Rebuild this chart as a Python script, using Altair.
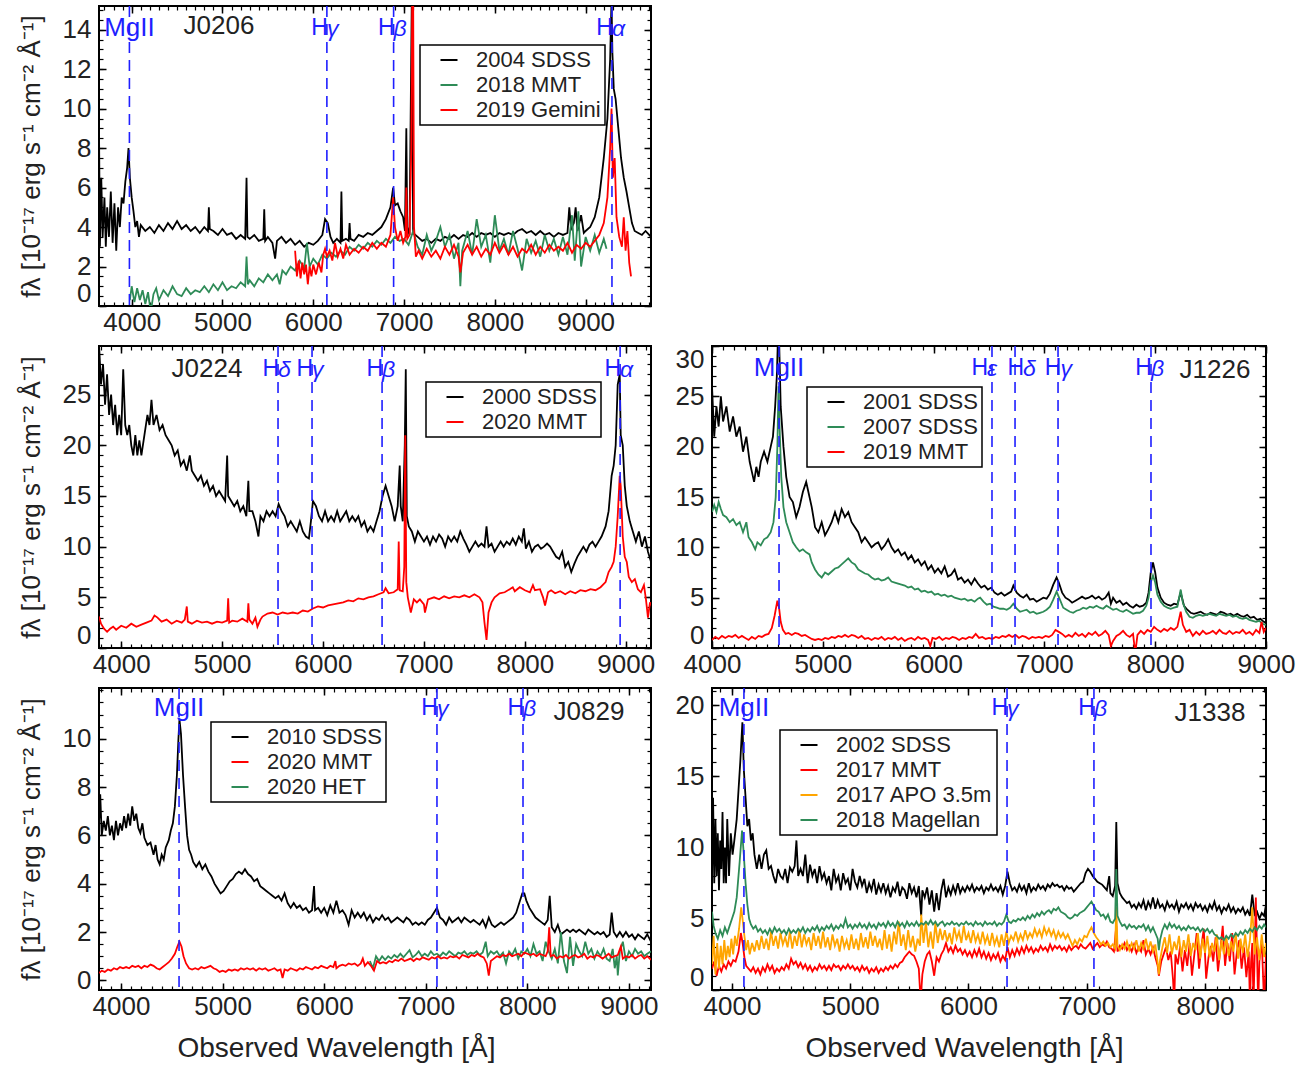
import altair as alt
import pandas as pd

FONT = "Liberation Sans"
BLUE = "#1f1fff"
TXT = "#222222"
C_BLACK, C_GREEN, C_RED, C_ORANGE = "#000000", "#2e8b57", "#ff0000", "#ffa500"

# ---------------- J0206 ----------------
J0206_SDSS2004 = [(3640,9.0),(3650,3.0),(3665,6.5),(3680,3.5),(3700,5.5),(3715,3.0),(3730,5.0),(3750,3.5),(3770,5.8),(3790,3.2),
 (3810,5.2),(3830,2.8),(3850,5.0),(3870,4.0),(3890,5.5),(3910,5.2),(3930,6.3),(3950,7.0),(3965,8.0),(3980,6.5),(4000,5.5),
 (4020,4.8),(4040,4.0),(4060,4.3),(4080,3.5),(4100,4.1),(4150,3.8),(4200,4.0),(4250,3.7),(4300,4.1),(4350,3.8),(4400,4.2),
 (4450,3.9),(4500,4.3),(4550,3.9),(4600,4.1),(4650,3.8),(4700,4.0),(4750,3.7),(4800,4.0),(4840,3.8),(4850,5.0),(4860,3.9),
 (4900,3.8),(4950,3.6),(5000,3.9),(5050,3.6),(5100,3.7),(5150,3.4),(5200,3.6),(5250,3.4),(5265,6.5),(5275,3.5),(5300,3.4),
 (5350,3.6),(5400,3.3),(5450,3.4),(5460,4.9),(5470,3.3),(5500,3.5),(5550,3.2),(5580,2.4),(5600,3.3),(5650,3.5),(5700,3.2),
 (5750,3.4),(5800,3.1),(5850,3.3),(5900,3.0),(5950,3.2),(6000,3.1),(6050,3.3),(6100,3.6),(6130,4.4),(6160,4.2),(6190,3.5),
 (6220,3.2),(6260,3.4),(6300,3.2),(6310,5.8),(6320,3.3),(6360,3.4),(6390,3.3),(6400,4.2),(6410,3.4),(6450,3.3),(6500,3.6),
 (6550,3.5),(6600,3.7),(6650,3.6),(6700,3.8),(6750,4.0),(6800,4.4),(6850,5.0),(6880,6.0),(6900,5.1),(6930,5.2),(6960,4.8),
 (6990,4.5),(7010,3.8),(7025,9.0),(7035,4.0),(7060,3.6),(7085,15.5),(7100,3.7),(7150,3.5),(7200,3.3),(7250,3.4),(7300,3.2),
 (7350,3.4),(7400,3.3),(7450,3.5),(7500,3.4),(7550,3.6),(7600,3.4),(7650,3.6),(7700,3.5),(7750,3.7),(7800,3.5),(7850,3.7),
 (7900,3.6),(7950,3.7),(8000,3.5),(8050,3.7),(8100,3.6),(8150,3.7),(8200,3.6),(8250,3.8),(8300,3.9),(8350,3.7),(8400,3.8),
 (8450,3.6),(8500,3.8),(8550,3.6),(8600,3.7),(8650,3.5),(8700,3.7),(8750,3.6),(8800,3.7),(8820,5.0),(8840,3.9),(8870,4.2),
 (8890,5.0),(8910,3.8),(8950,4.6),(8980,3.7),(9000,3.8),(9050,4.0),(9100,4.5),(9150,5.5),(9200,7.5),(9240,9.5),(9270,12.5),
 (9285,15.5),(9295,12.8),(9310,11.0),(9330,10.5),(9360,9.0),(9390,7.5),(9420,6.5),(9450,5.8),(9480,5.0),(9510,4.2),
 (9540,3.8),(9580,3.7),(9620,3.6),(9660,3.8),(9700,3.6),(9720,3.5)]
J0206_MMT2018 = [(3980,0.3),(4000,1.0),(4030,0.2),(4060,0.9),(4090,0.3),(4120,0.8),(4150,0.1),(4180,0.7),(4210,-0.3),(4240,0.6),
 (4270,0.9),(4300,0.3),(4350,0.8),(4400,0.5),(4450,1.0),(4500,0.6),(4550,0.5),(4600,0.9),(4650,0.6),(4700,0.8),(4750,0.7),
 (4800,1.0),(4850,0.7),(4900,1.1),(4950,0.8),(5000,1.2),(5050,0.8),(5100,1.0),(5150,0.9),(5200,1.2),(5250,1.0),(5265,2.5),
 (5280,1.1),(5300,1.3),(5350,1.0),(5400,1.4),(5450,1.2),(5500,1.6),(5550,1.3),(5600,1.6),(5630,1.1),(5660,1.8),(5700,1.6),
 (5750,2.0),(5800,1.8),(5850,2.3),(5900,1.9),(5930,3.2),(5960,2.0),(6000,2.4),(6050,2.1),(6100,2.6),(6150,2.4),(6200,2.7),
 (6250,2.5),(6300,2.8),(6350,2.6),(6400,3.0),(6450,2.8),(6500,3.1),(6550,2.9),(6600,3.2),(6650,3.0),(6700,3.3),(6750,3.1),
 (6800,3.4),(6850,3.2),(6900,3.5),(6950,3.3),(7000,3.4),(7050,3.1),(7100,3.8),(7150,3.0),(7200,2.6),(7250,3.6),(7300,2.8),
 (7350,3.3),(7400,4.0),(7450,3.0),(7500,3.6),(7550,2.4),(7600,3.2),(7620,1.0),(7640,2.8),(7700,3.8),(7750,2.6),(7800,4.4),
 (7850,3.0),(7900,3.6),(7950,2.2),(8000,4.6),(8050,2.8),(8100,3.4),(8150,2.6),(8200,3.8),(8250,2.9),(8300,1.8),(8350,3.4),
 (8400,2.7),(8450,3.3),(8500,2.5),(8550,3.6),(8600,2.8),(8650,3.4),(8700,2.6),(8750,3.5),(8800,2.6),(8850,4.6),(8880,2.3),
 (8920,4.8),(8950,2.0),(9000,3.5),(9050,2.8),(9100,3.6),(9150,2.7),(9200,3.4),(9230,2.9)]
J0206_GEMINI2019 = [(5800,2.8),(5820,1.5),(5840,2.3),(5860,1.4),(5880,2.2),(5900,1.6),(5920,2.1),(5940,1.1),(5960,2.0),(5980,1.5),
 (6000,2.1),(6030,1.6),(6060,2.2),(6090,1.7),(6110,2.6),(6130,2.9),(6150,2.5),(6180,2.8),(6210,2.3),(6240,3.2),(6270,2.5),
 (6300,2.9),(6330,2.4),(6360,3.1),(6400,2.6),(6450,2.9),(6500,2.7),(6550,3.0),(6600,2.8),(6650,3.2),(6700,2.9),(6750,3.2),
 (6800,3.0),(6850,3.6),(6880,5.5),(6900,4.0),(6930,3.3),(6960,3.8),(6990,3.2),(7015,3.5),(7025,6.0),(7035,3.4),(7060,3.6),
 (7080,8.0),(7090,16.0),(7100,16.0),(7110,4.0),(7130,2.5),(7160,2.8),(7200,2.4),(7250,2.9),(7300,2.5),(7350,2.8),(7400,2.4),
 (7450,3.0),(7500,2.6),(7550,3.1),(7600,2.5),(7620,1.7),(7650,2.7),(7700,3.1),(7750,2.6),(7800,3.0),(7850,2.5),(7900,2.9),
 (7950,2.6),(8000,3.2),(8050,2.7),(8100,3.1),(8150,2.6),(8200,3.0),(8250,2.5),(8300,2.9),(8350,2.7),(8400,3.1),(8450,2.6),
 (8500,3.0),(8550,2.7),(8600,3.1),(8650,2.8),(8700,3.0),(8750,2.8),(8800,3.2),(8850,2.7),(8900,3.1),(8950,2.9),(9000,3.2),
 (9050,3.0),(9100,3.3),(9150,3.6),(9200,4.2),(9240,5.5),(9270,8.0),(9285,10.0),(9300,6.5),(9320,7.5),(9340,4.5),(9370,3.5),
 (9400,3.0),(9420,4.5),(9440,2.8),(9460,3.8),(9480,2.2),(9500,1.5)]

# ---------------- J0224 ----------------
J0224_SDSS2000 = [(3780,30.0),(3800,26),(3820,28),(3840,24),(3860,27),(3880,23),(3900,25),(3920,22),(3940,24),(3960,21),(3980,23),
 (4000,21),(4020,27.5),(4040,22),(4060,21),(4080,22),(4100,20),(4120,19),(4140,21),(4160,19),(4180,20.5),(4200,19),(4230,21),
 (4260,23),(4280,22),(4300,24.5),(4320,22),(4350,23),(4380,21.5),(4410,22),(4440,21),(4470,20.5),(4500,20),(4530,19),
 (4560,19.5),(4590,18),(4620,18.5),(4650,17.5),(4680,19),(4700,17.5),(4730,17),(4760,16.5),(4790,17),(4820,16),(4850,16.5),
 (4880,15.5),(4910,16),(4940,15),(4970,15.5),(5000,15),(5030,14.5),(5050,19),(5060,15),(5090,14.5),(5120,14),(5150,14.5),
 (5180,13.5),(5210,14),(5240,13),(5260,16.5),(5270,13.5),(5300,13.5),(5330,12.5),(5360,11),(5380,13),(5410,12.5),
 (5440,13.5),(5470,13),(5500,13.5),(5530,13),(5560,14.2),(5590,13.5),(5620,13),(5650,12),(5680,12.5),(5710,12),(5740,11.5),
 (5770,12.5),(5800,11.5),(5830,11),(5860,10.8),(5880,12.5),(5900,14.5),(5930,14),(5960,13),(5990,12.5),(6020,13.5),
 (6050,12.5),(6080,13),(6110,12.5),(6140,13.5),(6170,12.5),(6200,13),(6230,13.5),(6260,12.5),(6290,13),(6320,12.5),
 (6350,13),(6380,12),(6410,12.5),(6440,11.5),(6470,12),(6500,11.5),(6530,12.5),(6560,13.5),(6590,15),(6620,16),(6650,15),
 (6680,14),(6710,12.5),(6740,14),(6760,18),(6770,14),(6790,12.5),(6810,20),(6820,27.5),(6830,13),(6850,12),(6880,11.5),
 (6910,10.5),(6940,11.5),(6970,11),(7000,10.5),(7030,11),(7060,10.2),(7090,11),(7120,10.5),(7150,11.2),(7180,10.8),
 (7210,10),(7240,11),(7270,10.5),(7300,11),(7330,10.5),(7360,11.5),(7390,10.8),(7420,10.2),(7450,9.5),(7480,10),(7510,10.5),
 (7540,10),(7570,10.3),(7600,10),(7620,12),(7640,10),(7670,10.3),(7700,9.5),(7730,10),(7760,10.5),(7790,10),(7820,10.5),
 (7850,10.2),(7880,10.8),(7910,10.2),(7940,11),(7970,10.5),(7990,11.8),(8010,9.8),(8040,10.5),(8070,9.5),(8100,10),
 (8130,10.2),(8160,9.8),(8190,10),(8220,10.3),(8250,10),(8280,9.5),(8310,9),(8340,8.8),(8370,9.5),(8400,8.0),(8430,8.5),
 (8460,7.5),(8490,8.3),(8520,9),(8550,9.5),(8580,10),(8610,9.5),(8640,10.2),(8670,10.5),(8700,10),(8730,10.5),(8760,11),
 (8800,12),(8830,13.5),(8860,17),(8880,18),(8900,20),(8920,26),(8940,27),(8950,21),(8970,20),(8990,16),(9010,14),
 (9040,12.5),(9070,11.5),(9100,10.5),(9130,11.5),(9160,10),(9190,11),(9220,9.5),(9250,8.5)]
J0224_MMT2020 = [(3780,3.1),(3800,2.4),(3830,1.9),(3860,1.6),(3890,1.9),(3920,2.1),(3950,1.8),(4000,2.2),(4050,2.0),(4100,2.4),
 (4150,2.1),(4200,2.3),(4250,2.5),(4300,2.7),(4330,3.2),(4360,3.0),(4400,2.6),(4450,2.8),(4500,2.4),(4550,2.7),(4600,2.5),
 (4630,2.8),(4650,4.1),(4660,2.6),(4700,2.4),(4750,2.7),(4800,2.5),(4850,2.6),(4900,2.4),(4950,2.6),(5000,2.5),(5050,2.7),
 (5060,4.9),(5070,2.5),(5100,2.7),(5150,2.6),(5200,2.9),(5250,2.6),(5260,4.4),(5270,2.8),(5300,2.4),(5330,3.0),(5350,2.1),
 (5380,2.8),(5400,3.1),(5450,3.4),(5500,3.5),(5550,3.3),(5600,3.5),(5650,3.4),(5700,3.5),(5750,3.4),(5800,3.7),(5850,3.6),
 (5900,3.9),(5950,4.1),(6000,4.0),(6050,4.2),(6100,4.3),(6150,4.4),(6200,4.5),(6250,4.7),(6300,4.6),(6350,4.9),(6400,4.8),
 (6450,5.0),(6500,5.1),(6550,5.3),(6600,5.5),(6620,5.9),(6650,5.4),(6700,5.5),(6740,5.8),(6750,10.5),(6760,5.7),(6790,5.6),
 (6805,8.0),(6815,21.0),(6825,6.5),(6840,5.0),(6870,3.5),(6900,4.8),(6930,4.5),(6960,4.8),(7000,4.3),(7010,3.5),(7040,4.8),
 (7070,4.9),(7100,5.0),(7150,4.8),(7200,5.1),(7250,4.9),(7300,5.1),(7350,5.0),(7400,5.2),(7450,5.0),(7500,5.3),(7550,5.0),
 (7580,4.5),(7600,2.5),(7620,0.8),(7640,3.5),(7670,4.5),(7700,5.0),(7750,5.4),(7800,5.5),(7850,5.8),(7880,6.0),(7900,5.6),
 (7950,6.0),(8000,5.7),(8050,5.5),(8080,6.2),(8100,5.7),(8150,5.8),(8180,5.0),(8200,4.2),(8230,5.5),(8260,5.7),(8300,5.4),
 (8350,5.6),(8400,5.3),(8450,5.6),(8500,5.4),(8550,5.7),(8600,5.6),(8650,5.8),(8700,5.7),(8750,6.0),(8800,6.5),(8830,7.5),
 (8860,8.0),(8880,8.5),(8900,10),(8920,13),(8940,17),(8950,16),(8970,11),(8990,9),(9010,8.5),(9030,7.0),(9060,6.5),
 (9090,6.8),(9120,5.8),(9150,5.5),(9180,6.2),(9200,4.8),(9220,3.0),(9240,4.5),(9250,4.2)]

# ---------------- J1226 ----------------
J1226_SDSS2001 = [(4000,26),(4020,21),(4040,24),(4060,22),(4080,25),(4100,22.5),(4130,24),(4160,21.5),(4190,23),(4220,21),
 (4250,22),(4280,19.5),(4310,21),(4340,18.5),(4360,17.5),(4380,16.5),(4400,18),(4420,17),(4440,18.5),(4470,19.5),(4500,18.5),
 (4530,20),(4550,21),(4570,24),(4585,27),(4597,31.5),(4607,30),(4620,24),(4645,20),(4670,17),(4700,15),(4730,14.5),(4760,13),
 (4790,14),(4820,15.5),(4850,16.5),(4870,15.5),(4900,14),(4930,12),(4960,11.5),(4990,12.5),(5020,11.2),(5050,11.8),
 (5080,12.5),(5110,13.5),(5140,12.5),(5170,13.8),(5200,13),(5230,13.5),(5260,12.5),(5290,12),(5320,11.5),(5350,10.5),
 (5380,11),(5410,10.5),(5440,10),(5470,10.3),(5500,10.5),(5530,9.8),(5560,10.2),(5590,10.8),(5620,10),(5650,9.5),(5680,9.8),
 (5710,9.2),(5740,9.5),(5770,8.8),(5800,9.2),(5830,8.5),(5860,8.8),(5890,8.2),(5920,8.6),(5950,7.8),(5980,8.2),(6010,7.5),
 (6040,7.9),(6070,7.4),(6100,8.1),(6130,7.1),(6160,7.3),(6190,7.8),(6220,6.8),(6250,7.0),(6280,6.5),(6310,6.8),(6340,6.3),
 (6370,6.9),(6400,6.4),(6430,6.0),(6460,6.2),(6490,5.8),(6520,6.0),(6550,5.5),(6580,5.3),(6610,5.5),(6640,5.2),(6670,5.4),
 (6700,5.6),(6720,6.2),(6750,5.5),(6780,5.2),(6810,5.0),(6840,5.3),(6870,4.8),(6900,4.9),(6930,4.6),(6960,4.8),(6990,5.0),
 (7020,4.9),(7050,5.4),(7080,6.3),(7110,7.0),(7130,6.5),(7160,5.5),(7190,5.0),(7220,4.8),(7250,4.5),(7280,4.7),(7310,4.9),
 (7340,5.1),(7370,4.9),(7400,5.0),(7430,5.2),(7460,4.9),(7490,5.1),(7520,4.8),(7550,5.0),(7580,5.5),(7600,4.4),(7620,5.0),
 (7650,4.5),(7680,4.7),(7710,4.3),(7740,4.5),(7770,4.2),(7800,4.0),(7830,4.3),(7860,4.1),(7890,4.2),(7920,4.5),(7940,5.5),
 (7960,7.5),(7980,8.5),(8000,7.5),(8020,6.0),(8050,5.0),(8080,4.5),(8110,4.3),(8140,4.2),(8170,4.4),(8200,4.3),(8230,5.5),
 (8260,4.2),(8290,3.8),(8320,3.5),(8350,3.4),(8380,3.5),(8410,3.6),(8440,3.4),(8470,3.3),(8500,3.5),(8530,3.4),(8560,3.3),
 (8590,3.6),(8620,3.5),(8650,3.3),(8680,3.4),(8710,3.2),(8740,3.4),(8770,3.2),(8800,3.1),(8830,3.3),(8860,3.0),(8890,3.1),
 (8920,2.8),(8950,2.9),(8980,2.6),(9000,2.5)]
J1226_SDSS2007 = [(4000,13.5),(4020,14.2),(4040,13.5),(4060,14.5),(4080,13.8),(4100,13.2),(4130,13.0),(4160,12.5),(4190,12.8),
 (4220,12.2),(4250,12.5),(4280,11.5),(4310,12.5),(4330,11.0),(4360,10.5),(4390,9.8),(4410,10.5),(4440,10.2),(4470,10.8),
 (4500,11.0),(4530,11.5),(4555,12.5),(4575,15),(4590,20),(4600,26),(4610,22),(4625,17),(4645,14),(4670,12.5),(4700,11.5),
 (4730,10.5),(4760,10.0),(4790,9.6),(4820,9.8),(4850,9.5),(4880,9.3),(4900,8.5),(4930,7.8),(4960,7.3),(4990,7.0),(5020,7.5),
 (5050,7.3),(5080,7.6),(5110,7.9),(5140,8.0),(5170,8.3),(5200,8.6),(5230,8.9),(5260,8.5),(5290,8.3),(5320,7.8),(5350,7.6),
 (5380,7.4),(5410,7.3),(5440,7.0),(5470,6.8),(5500,6.9),(5530,6.7),(5560,6.8),(5590,7.0),(5620,6.6),(5650,6.5),(5680,6.4),
 (5710,6.3),(5740,6.2),(5770,6.0),(5800,6.1),(5830,5.8),(5860,5.9),(5890,5.6),(5920,5.7),(5950,5.5),(5980,5.6),(6010,5.3),
 (6040,5.4),(6070,5.2),(6100,5.3),(6130,5.1),(6160,5.2),(6190,5.0),(6220,4.9),(6250,4.8),(6280,4.9),(6310,4.7),(6340,4.8),
 (6370,4.6),(6400,4.9),(6420,5.0),(6450,4.6),(6480,4.3),(6510,4.4),(6540,4.1),(6570,4.0),(6600,3.9),(6630,3.9),(6660,3.8),
 (6690,4.0),(6720,4.4),(6750,3.9),(6780,3.6),(6810,3.7),(6840,3.8),(6870,3.5),(6900,3.6),(6930,3.4),(6960,3.5),(6990,3.6),
 (7020,3.8),(7050,4.1),(7080,4.8),(7110,5.6),(7140,4.8),(7170,4.0),(7200,3.8),(7230,3.6),(7260,3.5),(7290,3.7),(7320,3.8),
 (7350,4.0),(7380,3.9),(7410,4.1),(7440,4.0),(7470,4.2),(7500,4.0),(7530,3.9),(7560,4.2),(7590,4.0),(7620,3.8),(7650,3.9),
 (7680,3.7),(7710,3.6),(7740,3.8),(7770,3.6),(7800,3.4),(7830,3.5),(7860,3.5),(7890,3.7),(7920,4.2),(7940,5.0),(7960,6.5),
 (7980,7.2),(8000,6.5),(8020,5.3),(8050,4.6),(8080,4.2),(8110,4.0),(8140,3.9),(8170,4.0),(8200,4.1),(8230,5.8),(8250,4.5),
 (8280,3.6),(8310,3.1),(8340,3.0),(8370,3.2),(8400,3.3),(8430,3.2),(8460,3.3),(8490,3.4),(8520,3.3),(8550,3.2),(8580,3.4),
 (8610,3.3),(8640,3.2),(8670,3.3),(8700,3.1),(8730,3.2),(8760,3.0),(8790,2.9),(8820,3.0),(8850,2.8),(8880,2.7),(8910,2.6),
 (8940,2.7),(8970,2.4),(9000,2.3)]
J1226_MMT2019 = [(4000,0.8),(4030,1.1),(4060,0.9),(4090,1.2),(4120,1.0),(4150,1.2),(4180,1.1),(4210,1.3),(4240,1.0),(4270,1.2),
 (4300,1.0),(4330,0.8),(4360,1.1),(4390,0.9),(4420,1.2),(4450,1.1),(4480,1.3),(4510,1.4),(4540,2.0),(4565,3.2),(4590,4.7),
 (4605,4.0),(4620,2.6),(4640,1.8),(4665,1.4),(4690,1.5),(4720,1.3),(4750,1.5),(4780,1.4),(4810,1.2),(4840,1.3),(4870,1.1),
 (4900,0.9),(4930,0.8),(4960,0.9),(4990,0.8),(5020,1.0),(5050,0.9),(5080,1.1),(5110,1.0),(5140,1.2),(5170,1.1),(5200,1.3),
 (5230,1.1),(5260,1.3),(5290,1.2),(5320,1.0),(5350,1.2),(5380,0.9),(5410,1.0),(5440,0.8),(5470,1.0),(5500,0.9),(5530,1.1),
 (5560,0.8),(5590,1.0),(5620,0.9),(5650,1.1),(5680,0.8),(5710,1.0),(5740,0.7),(5770,0.9),(5800,1.0),(5830,0.8),(5860,1.1),
 (5890,0.9),(5920,1.0),(5950,0.8),(5970,0.2),(5990,1.0),(6020,0.9),(6050,1.1),(6080,0.8),(6110,1.0),(6140,0.9),(6170,1.1),
 (6200,1.0),(6230,0.8),(6260,1.0),(6290,0.9),(6320,1.1),(6350,1.0),(6380,1.4),(6410,1.0),(6440,1.1),(6470,0.9),(6500,1.0),
 (6530,0.9),(6560,1.1),(6590,1.0),(6620,1.2),(6650,1.1),(6680,1.3),(6710,1.1),(6740,1.3),(6770,1.0),(6800,1.2),(6830,1.1),
 (6860,0.9),(6890,1.1),(6920,1.0),(6950,1.1),(6980,1.0),(7010,1.2),(7040,1.1),(7070,1.3),(7100,1.8),(7130,1.6),(7160,1.4),
 (7190,1.1),(7220,1.3),(7250,1.1),(7280,1.5),(7310,1.2),(7340,1.4),(7370,1.1),(7400,1.5),(7430,1.3),(7460,1.6),(7490,1.2),
 (7520,1.4),(7550,1.7),(7580,1.3),(7600,0.2),(7620,0.7),(7650,1.2),(7680,1.4),(7710,1.7),(7740,1.3),(7770,1.1),(7800,1.4),
 (7820,-0.5),(7840,1.3),(7870,1.7),(7900,1.4),(7930,1.8),(7960,1.6),(7990,2.1),(8020,1.8),(8050,1.6),(8080,1.9),(8110,1.7),
 (8140,2.0),(8170,1.8),(8200,2.1),(8230,3.6),(8250,2.3),(8280,1.6),(8310,1.8),(8340,1.2),(8370,1.6),(8400,1.3),(8430,1.7),
 (8460,1.4),(8490,1.5),(8520,1.7),(8550,1.4),(8580,1.8),(8610,1.5),(8640,1.4),(8670,1.7),(8700,1.4),(8730,1.6),(8760,1.5),
 (8790,1.8),(8820,1.4),(8850,1.6),(8880,1.3),(8910,1.8),(8940,1.5),(8960,2.6),(8980,1.6),(9000,2.0)]

# ---------------- J0829 ----------------
J0829_SDSS2010 = [(3783,6.5),(3795,7.7),(3810,6.0),(3830,6.6),(3850,6.2),(3870,6.8),(3890,6.0),(3910,6.4),(3930,5.8),(3950,6.6),
 (3970,6.0),(3990,6.5),(4010,6.2),(4030,6.8),(4050,6.3),(4070,6.9),(4090,6.4),(4110,7.2),(4130,6.6),(4150,6.9),(4170,6.3),
 (4190,6.1),(4210,6.5),(4230,5.9),(4260,5.6),(4290,5.7),(4320,5.2),(4340,5.6),(4360,5.0),(4380,4.8),(4400,5.2),(4420,5.0),
 (4440,5.5),(4470,5.8),(4490,6.2),(4510,6.5),(4530,7.2),(4550,8.5),(4565,10.0),(4575,10.8),(4590,10.2),(4610,8.5),(4630,7.2),
 (4650,6.0),(4670,5.4),(4690,5.2),(4710,4.9),(4740,4.7),(4770,4.9),(4800,4.6),(4830,4.8),(4860,4.5),(4890,4.3),(4920,4.0),
 (4950,3.8),(4980,3.6),(5010,3.7),(5040,3.9),(5070,4.1),(5100,4.2),(5130,4.4),(5160,4.5),(5190,4.4),(5220,4.6),(5250,4.4),
 (5280,4.3),(5310,4.1),(5340,4.2),(5370,3.9),(5400,3.8),(5430,3.7),(5460,3.6),(5490,3.5),(5520,3.4),(5550,3.5),(5580,3.3),
 (5610,3.6),(5640,3.2),(5670,3.0),(5700,3.2),(5730,3.0),(5760,3.1),(5790,2.9),(5820,3.0),(5850,2.8),(5880,2.9),(5900,3.9),
 (5910,2.9),(5940,3.0),(5970,2.8),(6000,3.0),(6030,2.7),(6060,3.1),(6090,2.8),(6120,3.3),(6150,2.8),(6180,2.9),(6210,2.7),
 (6240,2.3),(6270,2.9),(6300,2.6),(6330,2.8),(6360,2.6),(6390,2.8),(6420,2.5),(6450,2.7),(6480,2.4),(6510,2.6),(6540,2.5),
 (6570,2.7),(6600,2.5),(6630,2.6),(6660,2.4),(6690,2.5),(6720,2.6),(6750,2.5),(6780,2.4),(6810,2.6),(6840,2.5),(6870,2.3),
 (6900,2.4),(6930,2.3),(6960,2.4),(6990,2.3),(7020,2.5),(7050,2.6),(7080,2.8),(7110,3.0),(7140,2.6),(7170,2.5),(7200,2.3),
 (7230,2.6),(7260,2.4),(7290,2.5),(7320,2.6),(7350,2.4),(7380,2.6),(7410,2.5),(7440,2.4),(7470,2.5),(7500,2.4),(7530,2.3),
 (7560,2.5),(7590,2.2),(7620,2.6),(7650,2.3),(7680,2.2),(7710,2.3),(7740,2.4),(7770,2.3),(7800,2.4),(7830,2.5),(7860,2.6),
 (7890,2.8),(7920,3.2),(7950,3.6),(7970,3.6),(7990,3.3),(8020,3.0),(8050,2.8),(8080,2.6),(8110,2.5),(8140,2.4),(8170,2.3),
 (8200,2.5),(8220,3.5),(8240,2.2),(8270,2.0),(8300,2.3),(8330,1.9),(8360,2.0),(8390,2.1),(8420,2.0),(8450,2.1),(8480,2.0),
 (8510,2.1),(8540,2.0),(8570,1.9),(8600,2.1),(8630,2.0),(8660,1.9),(8690,2.0),(8720,1.9),(8750,2.0),(8780,1.8),(8810,1.9),
 (8830,2.8),(8850,2.0),(8880,1.8),(8910,2.0),(8940,1.8),(8970,2.0),(9000,1.8),(9030,1.9),(9060,1.7),(9090,1.9),(9120,1.8),
 (9150,1.7),(9180,1.9),(9217,1.6)]
J0829_MMT2020 = [(3783,0.3),(3810,0.4),(3840,0.35),(3870,0.45),(3900,0.4),(3930,0.5),(3960,0.45),(3990,0.55),(4020,0.5),
 (4050,0.55),(4080,0.5),(4110,0.6),(4140,0.55),(4170,0.6),(4200,0.5),(4230,0.6),(4260,0.55),(4290,0.65),(4320,0.6),(4350,0.5),
 (4380,0.45),(4410,0.55),(4440,0.65),(4470,0.75),(4500,0.9),(4530,1.1),(4555,1.4),(4575,1.6),(4595,1.4),(4615,1.0),(4640,0.7),
 (4670,0.5),(4700,0.45),(4730,0.5),(4760,0.45),(4790,0.55),(4820,0.5),(4850,0.55),(4880,0.6),(4910,0.5),(4940,0.45),
 (4970,0.35),(5000,0.4),(5030,0.35),(5060,0.45),(5090,0.4),(5120,0.45),(5150,0.4),(5180,0.5),(5210,0.45),(5240,0.5),
 (5270,0.45),(5300,0.5),(5330,0.4),(5360,0.5),(5390,0.45),(5420,0.5),(5450,0.4),(5480,0.45),(5510,0.5),(5540,0.4),
 (5570,0.45),(5590,0.1),(5610,0.45),(5640,0.4),(5670,0.5),(5700,0.45),(5730,0.4),(5760,0.5),(5790,0.45),(5820,0.55),
 (5850,0.5),(5880,0.45),(5910,0.55),(5940,0.5),(5970,0.6),(6000,0.55),(6030,0.5),(6060,0.6),(6090,0.55),(6110,0.8),
 (6120,0.5),(6150,0.6),(6180,0.65),(6210,0.6),(6240,0.7),(6270,0.65),(6300,0.7),(6330,0.6),(6360,0.7),(6380,0.9),(6400,0.6),
 (6430,0.75),(6460,0.6),(6490,0.4),(6520,0.8),(6550,0.7),(6580,0.75),(6610,0.7),(6640,0.8),(6670,0.75),(6700,0.85),
 (6730,0.8),(6760,0.9),(6790,0.8),(6820,0.85),(6850,0.9),(6880,0.8),(6910,0.9),(6940,0.85),(6970,0.95),(7000,0.9),
 (7030,0.85),(7060,0.95),(7090,0.9),(7120,1.0),(7150,0.9),(7180,0.95),(7210,0.9),(7240,1.0),(7270,0.95),(7300,1.0),
 (7330,0.9),(7360,1.05),(7390,1.0),(7420,0.95),(7450,1.05),(7480,1.0),(7510,1.1),(7540,1.0),(7570,0.95),(7600,0.7),
 (7620,0.2),(7640,0.8),(7670,0.9),(7700,1.0),(7730,0.95),(7760,1.05),(7790,1.0),(7820,1.1),(7850,1.0),(7880,1.05),
 (7910,1.1),(7940,1.0),(7970,1.15),(8000,1.1),(8030,1.05),(8060,1.1),(8090,1.0),(8120,1.1),(8150,1.05),(8180,1.0),
 (8200,1.2),(8215,2.2),(8230,1.0),(8260,1.05),(8290,0.9),(8320,1.0),(8350,0.95),(8380,1.05),(8410,0.9),(8440,1.0),
 (8470,1.05),(8500,0.95),(8530,1.0),(8560,1.1),(8590,0.9),(8620,1.0),(8650,0.95),(8680,1.05),(8710,1.0),(8740,0.9),
 (8770,1.0),(8800,1.1),(8830,0.95),(8860,1.0),(8890,1.05),(8920,1.4),(8940,0.9),(8970,1.0),(9000,0.95),(9030,1.05),
 (9060,0.9),(9090,1.0),(9120,1.05),(9150,0.9),(9180,1.0),(9217,0.85)]
J0829_HET2020 = [(6450,0.8),(6480,0.5),(6510,1.0),(6540,0.8),(6570,1.0),(6600,0.85),(6630,1.0),(6660,0.9),(6690,1.05),(6720,0.95),
 (6750,1.1),(6780,0.95),(6810,1.1),(6840,1.25),(6870,0.95),(6900,1.05),(6930,1.2),(6960,1.0),(6990,1.1),(7020,1.0),(7050,1.2),
 (7080,1.05),(7110,1.1),(7140,1.0),(7170,1.15),(7200,1.05),(7230,1.2),(7260,1.1),(7290,1.0),(7320,1.15),(7350,1.1),(7380,1.2),
 (7410,1.05),(7440,1.15),(7470,1.1),(7500,1.2),(7530,1.05),(7560,1.15),(7590,1.6),(7610,1.0),(7640,1.2),(7670,1.1),(7700,1.2),
 (7730,1.0),(7760,1.15),(7790,0.7),(7820,1.2),(7850,1.05),(7880,1.3),(7910,0.9),(7940,1.2),(7970,1.1),(8000,1.3),(8030,1.0),
 (8060,1.5),(8090,1.1),(8120,1.2),(8150,0.8),(8180,1.6),(8210,1.2),(8240,0.9),(8270,1.3),(8300,0.7),(8330,2.0),(8360,0.8),
 (8390,0.3),(8420,1.8),(8450,0.6),(8480,1.5),(8510,1.2),(8540,1.0),(8570,1.6),(8600,1.1),(8630,1.3),(8660,0.9),(8690,1.2),
 (8720,1.0),(8750,1.3),(8780,0.9),(8810,0.8),(8840,1.3),(8860,0.5),(8880,1.0),(8890,0.2),(8910,1.2),(8940,1.6),(8970,0.8),
 (9000,1.2),(9030,1.0),(9060,1.3),(9090,1.1),(9120,1.2),(9150,1.0),(9180,1.1),(9217,1.2)]

# ---------------- J1338 ----------------
J1338_SDSS2002 = [(3831,8.0),(3840,13.5),(3850,7.5),(3860,12.0),(3870,8.0),(3880,11.0),(3890,7.0),(3900,10.5),(3910,8.5),
 (3920,12.5),(3930,7.5),(3940,10.0),(3950,7.5),(3960,12.0),(3975,8.0),(3990,11.0),(4005,9.5),(4020,10.5),(4040,12.0),
 (4055,14.0),(4070,16.0),(4088,18.8),(4100,15.5),(4115,13.5),(4130,11.5),(4145,12.0),(4160,10.5),(4175,11.0),(4190,9.5),
 (4210,8.5),(4230,9.5),(4250,8.5),(4270,9.5),(4290,9.8),(4310,8.5),(4330,8.7),(4350,8.0),(4370,7.5),(4390,8.5),(4410,8.0),
 (4430,7.8),(4450,8.5),(4470,7.5),(4490,8.6),(4510,8.3),(4530,8.7),(4545,10.5),(4560,8.0),(4580,8.5),(4600,8.0),(4620,9.5),
 (4640,7.5),(4660,8.8),(4680,8.0),(4700,8.5),(4720,7.5),(4740,8.7),(4760,7.8),(4780,8.2),(4800,7.5),(4820,8.0),(4840,7.0),
 (4860,8.5),(4880,7.6),(4900,8.0),(4920,7.0),(4940,8.2),(4960,7.5),(4980,7.8),(5000,7.0),(5020,8.5),(5040,7.6),(5060,7.2),
 (5080,8.0),(5100,7.3),(5120,7.8),(5140,6.8),(5160,7.5),(5180,7.0),(5200,7.8),(5220,6.7),(5240,7.4),(5260,6.9),(5280,7.5),
 (5300,6.8),(5320,7.3),(5340,6.5),(5360,7.2),(5380,6.9),(5400,7.6),(5420,6.6),(5440,7.2),(5460,7.0),(5480,6.4),(5500,7.5),
 (5520,6.8),(5540,7.2),(5560,6.5),(5580,7.3),(5600,5.2),(5610,7.0),(5630,6.5),(5650,7.2),(5670,6.0),(5690,7.0),(5710,5.5),
 (5730,6.8),(5750,5.6),(5770,7.0),(5790,7.8),(5810,6.5),(5830,7.2),(5850,6.7),(5870,7.3),(5890,6.8),(5910,7.5),(5930,6.8),
 (5950,7.2),(5970,6.9),(5990,7.3),(6010,7.0),(6030,7.4),(6050,6.9),(6070,7.2),(6090,7.0),(6110,7.3),(6130,6.8),(6150,7.2),
 (6170,7.0),(6190,7.4),(6210,7.0),(6230,7.2),(6250,6.9),(6270,7.3),(6290,6.7),(6310,7.3),(6330,8.3),(6350,7.5),(6370,7.0),
 (6390,7.2),(6410,6.9),(6430,7.4),(6450,7.0),(6470,7.3),(6490,6.8),(6510,7.5),(6530,6.9),(6550,7.2),(6570,7.0),(6590,7.4),
 (6610,7.1),(6630,7.3),(6650,7.0),(6670,7.4),(6690,7.2),(6710,7.5),(6730,7.3),(6750,7.4),(6770,7.2),(6790,7.3),(6810,7.0),
 (6830,7.3),(6850,7.1),(6870,7.2),(6890,6.9),(6910,7.1),(6930,7.3),(6950,7.5),(6970,7.6),(6990,8.2),(7010,8.5),(7030,8.3),
 (7050,8.0),(7070,7.8),(7090,7.6),(7110,7.5),(7130,7.4),(7150,7.2),(7170,7.0),(7190,8.0),(7200,6.8),(7220,6.6),(7240,7.3),
 (7250,11.8),(7260,7.5),(7280,6.8),(7300,6.5),(7320,6.3),(7340,6.1),(7360,6.2),(7380,5.8),(7400,6.0),(7420,5.7),(7440,6.1),
 (7460,5.8),(7480,6.3),(7500,5.6),(7520,6.2),(7540,5.8),(7560,6.5),(7580,5.7),(7600,6.3),(7620,5.8),(7640,6.0),(7660,5.6),
 (7680,6.2),(7700,5.8),(7720,6.0),(7740,5.7),(7760,6.2),(7780,5.5),(7800,6.0),(7820,5.8),(7840,6.1),(7860,5.7),(7880,6.0),
 (7900,5.6),(7920,6.1),(7940,5.8),(7960,6.0),(7980,5.6),(8000,5.9),(8020,5.5),(8040,6.0),(8060,5.7),(8080,6.2),(8100,5.6),
 (8120,5.9),(8140,5.4),(8160,5.8),(8180,5.6),(8200,6.0),(8220,5.5),(8240,5.8),(8260,5.4),(8280,5.7),(8300,5.5),(8320,5.8),
 (8340,5.3),(8360,5.6),(8380,5.2),(8400,6.7),(8420,5.3),(8440,5.5),(8460,5.0),(8480,5.4),(8500,5.2),(8516,6.0)]
J1338_MMT2017 = [(3831,1.5),(3850,2.0),(3870,1.0),(3890,1.7),(3910,1.3),(3930,1.8),(3950,1.5),(3970,2.0),(3990,1.7),(4010,2.1),
 (4030,2.0),(4055,2.7),(4075,4.0),(4090,3.3),(4105,2.3),(4120,1.7),(4140,1.5),(4160,1.3),(4180,1.6),(4200,1.2),(4220,1.5),
 (4240,1.1),(4260,1.6),(4280,1.3),(4300,1.8),(4320,1.4),(4340,1.7),(4360,1.2),(4380,1.5),(4400,1.3),(4420,1.6),(4440,1.4),
 (4460,1.8),(4480,1.5),(4500,2.2),(4520,1.8),(4540,2.0),(4560,1.6),(4580,1.9),(4600,1.5),(4620,1.8),(4640,1.4),(4660,1.7),
 (4680,1.3),(4700,1.6),(4720,1.4),(4740,1.8),(4760,1.5),(4780,1.7),(4800,1.4),(4820,1.7),(4840,1.4),(4860,1.8),(4880,1.6),
 (4900,1.7),(4920,1.4),(4940,1.7),(4960,1.5),(4980,1.8),(5000,1.5),(5020,1.7),(5040,1.4),(5060,1.6),(5080,1.3),(5100,1.7),
 (5120,1.4),(5140,1.6),(5160,1.2),(5180,1.5),(5200,1.3),(5220,1.6),(5240,1.2),(5260,1.5),(5280,1.3),(5300,1.6),(5320,1.4),
 (5340,1.7),(5360,1.5),(5380,1.8),(5400,1.6),(5420,1.9),(5440,2.0),(5460,2.3),(5480,2.5),(5500,2.7),(5520,2.5),(5540,2.4),
 (5560,2.0),(5580,1.5),(5595,-0.8),(5610,1.1),(5630,2.0),(5650,2.5),(5670,2.7),(5690,2.0),(5710,1.0),(5730,2.3),(5750,2.0),
 (5770,2.5),(5790,2.8),(5810,3.3),(5830,2.7),(5850,3.0),(5870,2.6),(5890,3.1),(5910,2.7),(5930,2.9),(5950,2.5),(5970,2.8),
 (5990,2.4),(6010,2.7),(6030,2.3),(6050,2.8),(6070,2.4),(6090,2.9),(6110,2.3),(6130,2.7),(6150,2.2),(6170,2.6),(6190,2.1),
 (6210,2.5),(6230,2.2),(6250,2.6),(6270,2.0),(6290,2.4),(6310,2.1),(6330,3.0),(6350,2.3),(6370,2.8),(6390,2.4),(6410,2.9),
 (6430,2.5),(6450,3.0),(6470,2.6),(6490,3.1),(6510,2.7),(6530,3.0),(6550,2.6),(6570,2.9),(6590,2.7),(6610,3.1),(6630,2.8),
 (6650,3.0),(6670,2.7),(6690,3.2),(6710,2.8),(6730,3.1),(6750,2.9),(6770,3.1),(6790,2.8),(6810,3.0),(6830,2.7),(6850,3.1),
 (6870,2.8),(6890,3.0),(6910,3.1),(6930,2.9),(6950,3.2),(6970,3.0),(6990,2.9),(7010,3.1),(7030,3.3),(7050,2.9),(7070,3.1),
 (7090,3.3),(7110,3.0),(7130,3.2),(7150,3.1),(7170,3.4),(7190,3.0),(7210,2.9),(7230,2.7),(7250,4.5),(7260,2.7),(7280,3.1),
 (7300,2.9),(7320,3.3),(7340,2.8),(7360,3.1),(7380,2.7),(7400,3.2),(7420,2.6),(7440,3.0),(7460,2.7),(7480,3.5),(7500,2.5),
 (7520,2.9),(7540,2.5),(7560,3.0),(7580,2.3),(7600,1.7),(7610,1.0),(7630,2.0),(7650,2.5),(7670,3.0),(7690,2.1),(7710,2.7),
 (7730,0.7),(7740,-1.0),(7750,2.5),(7770,1.8),(7790,3.1),(7810,1.3),(7830,2.8),(7850,1.7),(7870,3.3),(7890,1.0),(7910,2.5),
 (7930,4.0),(7950,1.5),(7970,3.1),(7990,4.3),(8010,0.8),(8030,2.3),(8050,3.1),(8070,2.0),(8090,3.7),(8110,1.3),(8130,2.8),
 (8150,4.5),(8170,1.7),(8190,3.3),(8210,2.0),(8230,4.0),(8250,1.1),(8270,2.7),(8290,3.5),(8310,1.5),(8330,3.0),(8350,0.9),
 (8370,2.7),(8380,-1.0),(8390,2.0),(8400,3.3),(8410,-1.0),(8420,2.3),(8430,6.5),(8440,2.5),(8450,-1.0),(8460,2.0),(8480,3.5),
 (8500,-1.0),(8516,2.5)]
J1338_APO2017 = [(3831,1.8),(3845,3.8),(3860,1.1),(3875,3.3),(3890,1.5),(3905,3.1),(3920,1.8),(3935,3.5),(3950,2.1),(3965,3.1),
 (3980,2.3),(3995,3.6),(4010,2.5),(4025,3.8),(4040,3.1),(4060,4.3),(4078,5.8),(4092,4.8),(4105,3.8),(4120,2.8),(4135,3.5),
 (4150,2.5),(4170,3.3),(4190,2.7),(4210,3.5),(4230,2.8),(4250,3.8),(4270,2.9),(4290,3.6),(4310,2.8),(4330,4.1),(4350,3.1),
 (4370,3.8),(4390,2.9),(4410,4.0),(4430,3.2),(4450,3.7),(4470,3.0),(4490,4.1),(4510,2.9),(4530,3.8),(4550,3.1),(4570,4.2),
 (4590,3.0),(4610,3.9),(4630,3.2),(4650,3.7),(4670,2.8),(4690,4.0),(4710,3.1),(4730,3.8),(4750,2.9),(4770,4.1),(4790,3.0),
 (4810,3.7),(4830,2.8),(4850,3.9),(4870,3.1),(4890,3.6),(4910,2.7),(4930,3.8),(4950,3.0),(4970,3.5),(4990,2.8),(5010,3.9),
 (5030,2.9),(5050,3.6),(5070,2.8),(5090,4.0),(5110,3.0),(5130,3.7),(5150,2.9),(5170,4.1),(5190,3.1),(5210,3.8),(5230,3.0),
 (5250,3.6),(5270,2.8),(5290,4.2),(5310,2.9),(5330,3.9),(5350,2.7),(5370,4.1),(5390,3.2),(5410,4.8),(5430,3.1),(5450,3.9),
 (5470,2.8),(5490,4.2),(5510,3.0),(5530,3.8),(5550,2.7),(5570,3.6),(5590,3.1),(5600,5.3),(5620,3.3),(5640,4.8),(5660,3.0),
 (5680,4.1),(5700,2.9),(5720,4.7),(5740,3.3),(5760,4.3),(5780,3.5),(5800,4.2),(5820,3.4),(5840,4.0),(5860,3.2),(5880,4.4),
 (5900,3.6),(5920,4.1),(5940,3.3),(5960,4.5),(5980,3.5),(6000,4.0),(6020,3.3),(6040,4.2),(6060,3.4),(6080,3.9),(6100,3.2),
 (6120,4.1),(6140,3.3),(6160,3.8),(6180,3.1),(6200,4.0),(6220,3.2),(6240,3.7),(6260,3.0),(6280,3.9),(6300,3.1),(6320,4.1),
 (6340,3.3),(6360,3.8),(6380,3.5),(6400,4.1),(6420,3.4),(6440,3.9),(6460,3.5),(6480,4.2),(6500,3.6),(6520,4.0),(6540,3.7),
 (6560,4.3),(6580,3.8),(6600,4.2),(6620,3.7),(6640,4.4),(6660,3.9),(6680,4.3),(6700,3.8),(6720,4.2),(6740,3.6),(6760,4.1),
 (6780,3.7),(6800,4.0),(6820,3.6),(6840,3.9),(6860,3.5),(6880,3.1),(6900,3.5),(6920,3.2),(6940,3.6),(6960,3.4),(6980,3.8),
 (7000,3.7),(7020,4.1),(7040,4.4),(7060,4.0),(7080,3.7),(7100,3.5),(7120,3.2),(7140,3.4),(7160,3.1),(7180,3.3),(7200,3.0),
 (7220,3.2),(7240,2.9),(7250,5.8),(7260,3.1),(7280,2.8),(7300,3.2),(7320,2.9),(7340,3.4),(7360,2.8),(7380,3.3),(7400,2.9),
 (7420,3.5),(7440,2.7),(7460,3.3),(7480,2.9),(7500,3.6),(7520,2.8),(7540,3.4),(7560,2.7),(7580,3.2),(7600,1.9),(7610,1.1),
 (7620,2.1),(7640,3.0),(7660,3.7),(7680,2.6),(7700,3.9),(7720,2.5),(7740,3.4),(7760,2.8),(7780,3.8),(7800,2.3),(7820,3.5),
 (7840,2.7),(7860,3.9),(7880,2.4),(7900,3.3),(7920,2.8),(7940,4.0),(7960,2.2),(7980,3.6),(8000,2.6),(8020,3.8),(8040,2.3),
 (8060,3.3),(8080,2.7),(8100,3.9),(8120,2.1),(8140,3.5),(8160,2.5),(8180,3.8),(8200,2.4),(8220,3.4),(8240,2.7),(8260,4.0),
 (8280,2.2),(8300,3.6),(8320,2.6),(8340,3.9),(8360,2.3),(8380,3.5),(8400,5.8),(8420,2.5),(8440,3.7),(8460,2.1),(8480,3.9),
 (8500,2.3),(8516,3.3)]
J1338_MAGELLAN2018 = [(3831,5.5),(3845,4.5),(3860,4.0),(3880,3.6),(3900,4.2),(3920,3.8),(3940,4.4),(3960,4.0),(3980,4.5),(4000,5.0),
 (4020,5.5),(4040,6.5),(4065,9.0),(4085,11.2),(4100,9.5),(4115,7.5),(4130,6.0),(4145,5.0),(4160,4.6),(4180,4.3),(4200,4.5),
 (4220,4.1),(4240,4.3),(4260,4.0),(4280,4.2),(4300,3.9),(4320,4.3),(4340,4.0),(4360,4.4),(4380,4.1),(4400,4.3),(4420,4.0),
 (4440,4.2),(4460,3.9),(4480,4.3),(4500,4.0),(4520,4.2),(4540,4.0),(4560,4.3),(4580,4.1),(4600,4.4),(4620,4.0),(4640,4.3),
 (4660,4.1),(4680,4.4),(4700,4.2),(4720,4.5),(4740,4.1),(4760,4.4),(4780,4.2),(4800,4.5),(4820,4.3),(4840,4.6),(4860,4.2),
 (4880,4.5),(4900,4.3),(4920,4.6),(4940,4.4),(4960,5.0),(4980,4.4),(5000,4.6),(5020,4.3),(5040,4.6),(5060,4.4),(5080,4.7),
 (5100,4.4),(5120,4.6),(5140,4.3),(5160,4.7),(5180,4.4),(5200,4.6),(5220,4.3),(5240,4.7),(5260,4.5),(5280,4.7),(5300,4.4),
 (5320,4.8),(5340,4.5),(5360,4.7),(5380,4.4),(5400,4.8),(5420,4.5),(5440,4.7),(5460,4.4),(5480,4.8),(5500,4.5),(5520,4.7),
 (5540,4.5),(5560,4.8),(5580,4.5),(5600,4.7),(5620,4.6),(5640,4.8),(5660,4.6),(5680,4.9),(5700,4.6),(5720,4.8),(5740,4.5),
 (5760,4.7),(5780,4.8),(5800,4.5),(5820,4.7),(5840,4.6),(5860,4.8),(5880,4.6),(5900,4.7),(5920,4.5),(5940,4.7),(5960,4.6),
 (5980,4.8),(6000,4.6),(6020,4.7),(6040,4.5),(6060,4.8),(6080,4.6),(6100,4.7),(6120,4.5),(6140,4.8),(6160,4.6),(6180,4.7),
 (6200,4.6),(6220,4.8),(6240,4.5),(6260,4.7),(6280,4.6),(6300,4.8),(6320,5.3),(6340,4.8),(6360,4.7),(6380,4.9),(6400,4.8),
 (6420,5.0),(6440,4.9),(6460,5.1),(6480,4.9),(6500,5.2),(6520,5.0),(6540,5.3),(6560,5.1),(6580,5.4),(6600,5.2),(6620,5.5),
 (6640,5.3),(6660,5.5),(6680,5.6),(6700,5.4),(6720,5.7),(6740,5.6),(6760,5.8),(6780,5.5),(6800,5.4),(6820,5.3),(6840,5.1),
 (6860,5.0),(6880,5.1),(6900,5.3),(6920,5.2),(6940,5.4),(6960,5.5),(6980,5.6),(7000,5.8),(7020,6.0),(7040,6.2),(7060,5.9),
 (7080,5.6),(7100,5.5),(7120,5.2),(7140,5.3),(7160,5.0),(7180,5.3),(7200,4.8),(7220,4.7),(7240,5.0),(7250,8.5),(7260,5.2),
 (7280,4.8),(7300,4.5),(7320,4.6),(7340,4.3),(7360,4.6),(7380,4.4),(7400,4.5),(7420,4.3),(7440,4.5),(7460,4.4),(7480,4.6),
 (7500,4.2),(7520,4.5),(7540,4.1),(7560,4.4),(7580,4.0),(7600,3.6),(7610,2.8),(7620,3.5),(7640,4.2),(7660,4.6),(7680,4.3),
 (7700,4.7),(7720,4.4),(7740,4.6),(7760,4.3),(7780,4.5),(7800,4.2),(7820,4.4),(7840,4.2),(7860,4.5),(7880,4.3),(7900,4.4),
 (7920,4.2),(7940,4.4),(7960,4.1),(7980,4.3),(8000,4.1),(8020,4.3),(8040,4.0),(8060,4.2),(8080,3.9),(8100,3.8),(8120,3.6),
 (8140,3.7),(8160,3.5),(8180,3.8),(8200,3.6),(8220,3.9),(8240,3.7),(8260,4.0),(8280,3.8),(8300,4.1),(8320,3.9),(8340,4.2),
 (8360,4.0),(8380,4.3),(8400,4.1),(8420,4.4),(8440,4.2),(8460,4.5),(8480,4.3),(8500,4.6),(8516,4.4)]

# emission line markers: (line wavelength, label anchor wavelength, label prefix, greek letter)
J0206_LINES = [(3975, 3975, "MgII", ""), (6150, 6150, "H", "γ"), (6885, 6885, "H", "β"), (9290, 9290, "H", "α")]
J0224_LINES = [(5554, 5554, "H", "δ"), (5891, 5891, "H", "γ"), (6585, 6585, "H", "β"), (8944, 8944, "H", "α")]
J1226_LINES = [(4605, 4605, "MgII", ""), (6527, 6482, "H", "ε"), (6735, 6807, "H", "δ"), (7123, 7145, "H", "γ"),
               (7962, 7962, "H", "β")]
J0829_LINES = [(4571, 4571, "MgII", ""), (7110, 7110, "H", "γ"), (7957, 7957, "H", "β")]
J1338_LINES = [(4101, 4101, "MgII", ""), (6326, 6326, "H", "γ"), (7061, 7061, "H", "β")]


def frange(a, b, step):
    out, v = [], a
    while v <= b + 1e-9:
        out.append(round(v, 4))
        v += step
    return out


def make_panel(cfg):
    W, H = cfg["size"]
    xs = alt.Scale(domain=cfg["xdom"], nice=False, zero=False)
    ys = alt.Scale(domain=cfg["ydom"], nice=False, zero=False)
    cscale = alt.Scale(domain=[s[0] for s in cfg["legend"]], range=[s[1] for s in cfg["legend"]])
    lx, ly = cfg["legend_xy"]
    legend = alt.Legend(orient="none", legendX=lx, legendY=ly, title=None, direction="vertical",
                        symbolType="stroke", symbolSize=289, symbolStrokeWidth=2,
                        labelFont=FONT, labelFontSize=22, labelColor=TXT, labelOffset=16,
                        symbolOffset=14, padding=4, rowPadding=3, strokeColor="black",
                        fillColor="white", cornerRadius=0)
    xmaj = cfg["xmajor"]
    ymaj = cfg["ymajor"]
    xmin_ = frange(cfg["xminor"][0], cfg["xminor"][1], cfg["xminor"][2])
    ymin_ = frange(cfg["yminor"][0], cfg["yminor"][1], cfg["yminor"][2])

    xkw = dict(values=xmaj, tickSize=7, offset=-7, domain=False, grid=False, labelFont=FONT,
               labelFontSize=26, labelColor=TXT, labelPadding=3, labelFlush=False, labelOverlap=False,
               labelBound=False, tickColor="black", tickWidth=1.5, format="d")
    if cfg.get("xtitle"):
        xkw.update(title=cfg["xtitle"], titleFont=FONT, titleFontSize=28, titleFontWeight="normal",
                   titleColor=TXT, titleX=cfg["xtitle_x"], titleY=65, titleAlign="center",
                   titleBaseline="middle", titleAngle=0)
    else:
        xkw.update(title=None)
    ykw = dict(values=ymaj, tickSize=7, offset=-7, domain=False, grid=False, labelFont=FONT,
               labelFontSize=26, labelColor=TXT, labelPadding=8, labelFlush=True, labelOverlap=False,
               labelBound=False, tickColor="black", tickWidth=1.5, format="d")
    if cfg.get("ytitle"):
        ykw.update(title=cfg["ytitle"], titleFont=FONT, titleFontSize=26, titleFontWeight="normal",
                   titleColor=TXT, titleX=-75, titleY=H / 2, titleAlign="center",
                   titleBaseline="middle", titleAngle=270)
    else:
        ykw.update(title=None)

    layers = []
    for i, (pairs, label) in enumerate(cfg["series"]):
        df = pd.DataFrame(pairs, columns=["w", "f"])
        df["s"] = label
        layers.append(alt.Chart(df).mark_line(clip=True, strokeWidth=1.8).encode(
            x=alt.X("w:Q", scale=xs, axis=alt.Axis(**xkw) if i == 0 else None),
            y=alt.Y("f:Q", scale=ys, axis=alt.Axis(**ykw) if i == 0 else None),
            color=alt.Color("s:N", scale=cscale, legend=legend),
        ))

    ldf = pd.DataFrame(cfg["lines"], columns=["w", "lw", "h", "g"])
    layers.append(alt.Chart(ldf).mark_rule(color=BLUE, strokeDash=[11, 7], strokeWidth=1.6, clip=True)
                  .encode(x=alt.X("w:Q", scale=xs, axis=None)))
    mg = ldf[ldf["g"] == ""]
    hl = ldf[ldf["g"] != ""]
    ty = cfg["label_y"]
    if len(mg):
        layers.append(alt.Chart(mg).mark_text(font=FONT, fontSize=26, color=BLUE, align="center",
                                              baseline="middle").encode(
            x=alt.X("lw:Q", scale=xs, axis=None), y=alt.value(ty), text="h:N"))
    layers.append(alt.Chart(hl).mark_text(font=FONT, fontSize=23, color=BLUE, align="right",
                                          baseline="middle", dx=1).encode(
        x=alt.X("lw:Q", scale=xs, axis=None), y=alt.value(ty), text="h:N"))
    layers.append(alt.Chart(hl).mark_text(font=FONT, fontSize=23, fontStyle="italic", color=BLUE,
                                          align="left", baseline="middle", dx=0).encode(
        x=alt.X("lw:Q", scale=xs, axis=None), y=alt.value(ty + 1), text="g:N"))

    nx, ny = cfg["name_xy"]
    layers.append(alt.Chart(pd.DataFrame({"t": [cfg["name"]]})).mark_text(
        font=FONT, fontSize=26, color=TXT, align="center", baseline="middle").encode(
        x=alt.value(nx), y=alt.value(ny), text="t:N"))

    carrier = pd.DataFrame({"w": [cfg["xdom"][0]], "f": [cfg["ydom"][0]]})
    common = dict(domain=False, grid=False, labels=False, title=None, tickColor="black")
    layers.append(alt.Chart(carrier).mark_point(opacity=0).encode(
        x=alt.X("w:Q", scale=xs, axis=alt.Axis(orient="top", values=xmaj, tickSize=7, offset=-7,
                                               tickWidth=1.5, **common)),
        y=alt.Y("f:Q", scale=ys, axis=alt.Axis(orient="right", values=ymaj, tickSize=7, offset=-7,
                                               tickWidth=1.5, **common))))
    layers.append(alt.Chart(carrier).mark_point(opacity=0).encode(
        x=alt.X("w:Q", scale=xs, axis=alt.Axis(orient="bottom", values=xmin_, tickSize=4, offset=-4,
                                               tickWidth=1.2, **common)),
        y=alt.Y("f:Q", scale=ys, axis=alt.Axis(orient="left", values=ymin_, tickSize=4, offset=-4,
                                               tickWidth=1.2, **common))))
    layers.append(alt.Chart(carrier).mark_point(opacity=0).encode(
        x=alt.X("w:Q", scale=xs, axis=alt.Axis(orient="top", values=xmin_, tickSize=4, offset=-4,
                                               tickWidth=1.2, **common)),
        y=alt.Y("f:Q", scale=ys, axis=alt.Axis(orient="right", values=ymin_, tickSize=4, offset=-4,
                                               tickWidth=1.2, **common))))

    return alt.layer(*layers).resolve_axis(x="independent", y="independent").properties(width=W, height=H)


YT = "f\u03bb [10\u207b\u00b9\u2077 erg s\u207b\u00b9 cm\u207b\u00b2 \u00c5\u207b\u00b9]"
XT = "Observed Wavelength [\u00c5]"
XMAJ = [4000, 5000, 6000, 7000, 8000, 9000]

p1 = make_panel(dict(size=(552, 300), xdom=[3640, 9720], ydom=[0, 15.2],
    xmajor=XMAJ, ymajor=[0, 2, 4, 6, 8, 10, 12, 14], xminor=(3700, 9700, 100), yminor=(0, 15, 0.5),
    series=[(J0206_SDSS2004, "2004 SDSS"), (J0206_MMT2018, "2018 MMT"), (J0206_GEMINI2019, "2019 Gemini")],
    legend=[("2004 SDSS", C_BLACK), ("2018 MMT", C_GREEN), ("2019 Gemini", C_RED)],
    legend_xy=(321, 39), lines=J0206_LINES, label_y=22, name="J0206", name_xy=(120, 20), ytitle=YT))

# empty top-right cell of the grid
blank = alt.Chart(pd.DataFrame({"a": [0]})).mark_point(opacity=0).encode(
    x=alt.X("a:Q", axis=None), y=alt.Y("a:Q", axis=None)
).properties(width=554, height=300, view=alt.ViewBackground(strokeOpacity=0))

p2 = make_panel(dict(size=(552, 302), xdom=[3780, 9250], ydom=[0, 29.8],
    xmajor=XMAJ, ymajor=[0, 5, 10, 15, 20, 25], xminor=(3800, 9200, 100), yminor=(0, 29, 1),
    series=[(J0224_SDSS2000, "2000 SDSS"), (J0224_MMT2020, "2020 MMT")],
    legend=[("2000 SDSS", C_BLACK), ("2020 MMT", C_RED)],
    legend_xy=(327, 36), lines=J0224_LINES, label_y=23, name="J0224", name_xy=(108, 23), ytitle=YT))

p3 = make_panel(dict(size=(554, 302), xdom=[4000, 9000], ydom=[0, 30],
    xmajor=XMAJ, ymajor=[0, 5, 10, 15, 20, 25, 30], xminor=(4000, 9000, 100), yminor=(0, 30, 1),
    series=[(J1226_SDSS2001, "2001 SDSS"), (J1226_SDSS2007, "2007 SDSS"), (J1226_MMT2019, "2019 MMT")],
    legend=[("2001 SDSS", C_BLACK), ("2007 SDSS", C_GREEN), ("2019 MMT", C_RED)],
    legend_xy=(95, 41), lines=J1226_LINES, label_y=22, name="J1226", name_xy=(503, 24)))

p4 = make_panel(dict(size=(552, 302), xdom=[3783, 9217], ydom=[-0.4, 12.1],
    xmajor=XMAJ, ymajor=[0, 2, 4, 6, 8, 10], xminor=(3800, 9200, 100), yminor=(0, 12, 0.5),
    series=[(J0829_SDSS2010, "2010 SDSS"), (J0829_HET2020, "2020 HET"), (J0829_MMT2020, "2020 MMT")],
    legend=[("2010 SDSS", C_BLACK), ("2020 MMT", C_RED), ("2020 HET", C_GREEN)],
    legend_xy=(112, 34), lines=J0829_LINES, label_y=20, name="J0829", name_xy=(490, 24),
    ytitle=YT, xtitle=XT, xtitle_x=237))

p5 = make_panel(dict(size=(554, 302), xdom=[3831, 8516], ydom=[0, 21.2],
    xmajor=[4000, 5000, 6000, 7000, 8000], ymajor=[0, 5, 10, 15, 20], xminor=(3900, 8500, 100),
    yminor=(0, 21, 1),
    series=[(J1338_SDSS2002, "2002 SDSS"), (J1338_MMT2017, "2017 MMT"), (J1338_APO2017, "2017 APO 3.5m"),
            (J1338_MAGELLAN2018, "2018 Magellan")],
    legend=[("2002 SDSS", C_BLACK), ("2017 MMT", C_RED), ("2017 APO 3.5m", C_ORANGE), ("2018 Magellan", C_GREEN)],
    legend_xy=(68, 42), lines=J1338_LINES, label_y=20, name="J1338", name_xy=(498, 25),
    xtitle=XT, xtitle_x=252))

chart = alt.concat(p1, blank, p2, p3, p4, p5, columns=2, bounds="flush",
                   spacing={"row": 40, "column": 61}).resolve_scale(
    color="independent"
).properties(
    padding={"left": 17, "top": 4, "right": 19, "bottom": 6},
    background="white",
).configure_view(stroke="black", strokeWidth=2).configure_legend(strokeWidth=1.5)

chart.save("out.html", embed_options={"renderer": "svg", "actions": False})
